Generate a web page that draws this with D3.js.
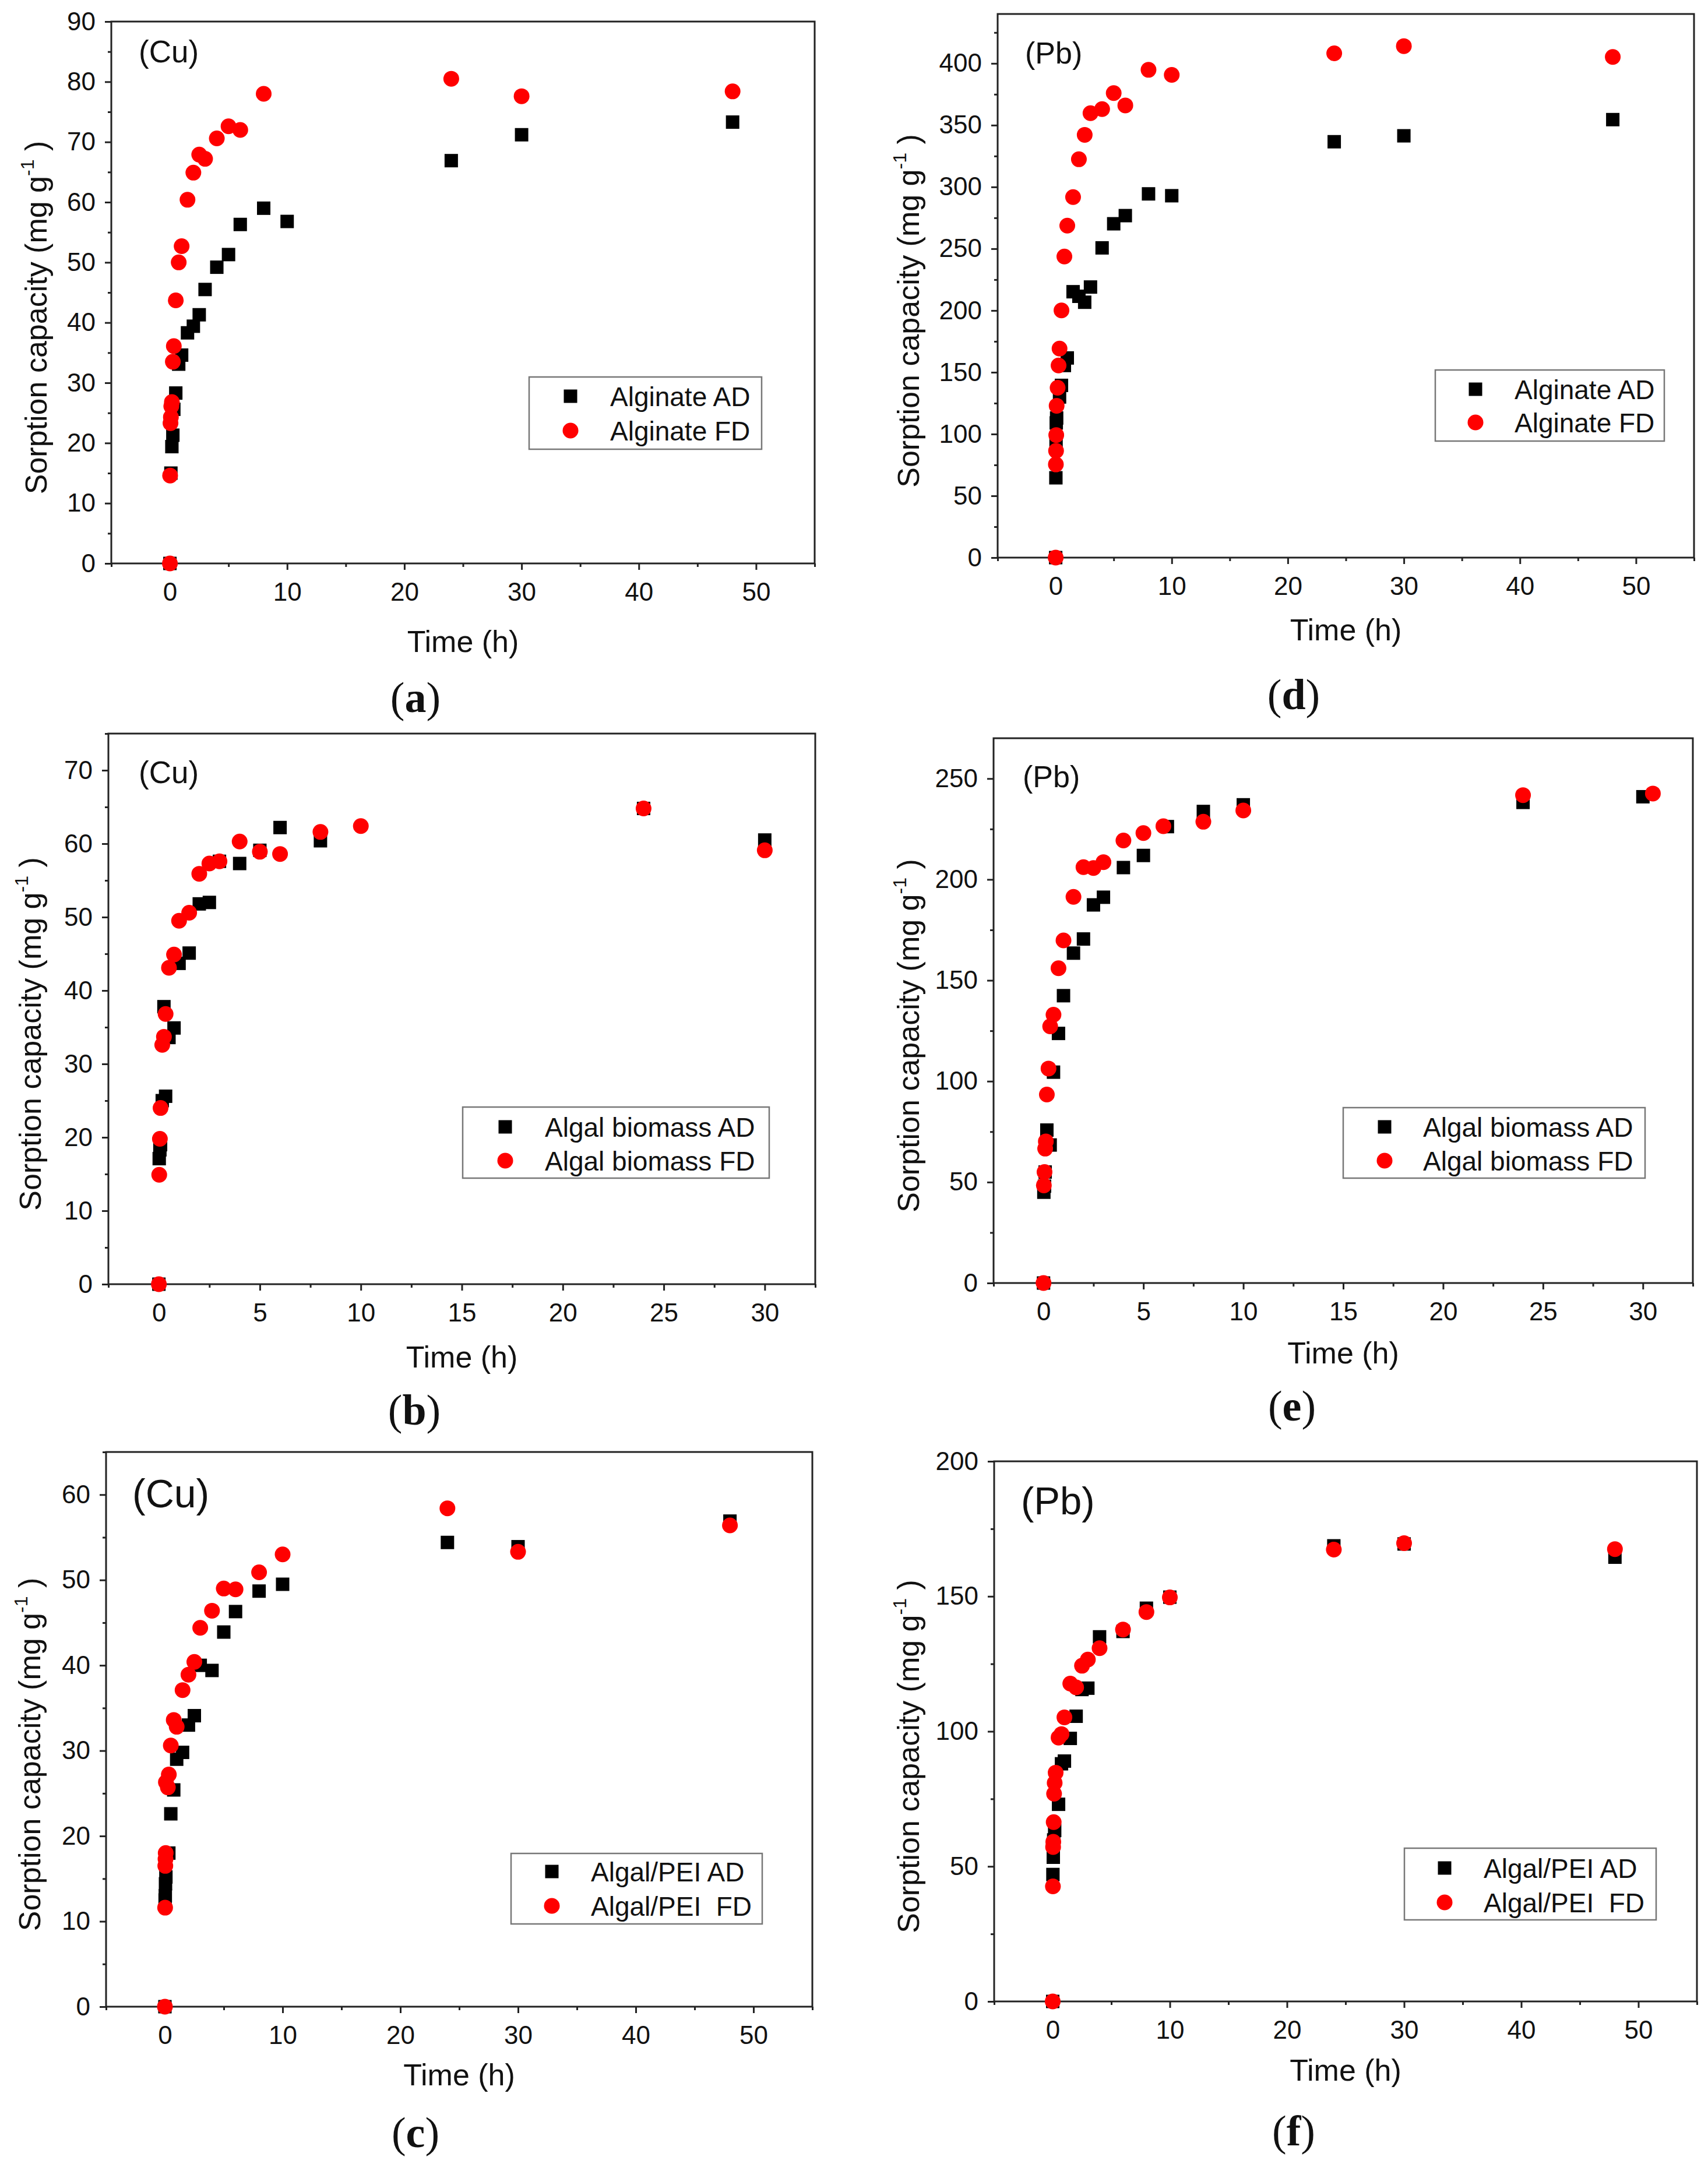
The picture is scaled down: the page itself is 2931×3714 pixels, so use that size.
<!DOCTYPE html>
<html>
<head>
<meta charset="utf-8">
<script src="https://cdn.jsdelivr.net/npm/d3@7"></script>
<style>
body { margin: 0; background: #fff; }
text { font-family: "Liberation Sans", Arial, sans-serif; fill: #111; }
</style>
</head>
<body>
<div id="viz"></div>
<script>
// (a) Cu on alginate
var aTimeAD = [0, 0.083, 0.167, 0.25, 0.333, 0.5, 0.75, 1, 1.5, 2, 2.5, 3, 4, 5, 6, 8, 10, 24, 30, 48];
var aQAD = [0, 15.0, 19.4, 21.3, 25.6, 28.3, 33.1, 34.6, 38.3, 39.4, 41.3, 45.5, 49.2, 51.3, 56.3, 59.0, 56.8, 66.9, 71.2, 73.3];
var aTimeFD = [0, 0.017, 0.05, 0.083, 0.117, 0.167, 0.25, 0.333, 0.5, 0.75, 1, 1.5, 2, 2.5, 3, 4, 5, 6, 8, 24, 30, 48];
var aQFD = [0, 14.6, 23.3, 24.3, 26.1, 26.8, 33.5, 36.1, 43.7, 50.0, 52.7, 60.4, 64.9, 67.9, 67.2, 70.6, 72.6, 72.0, 78.0, 80.5, 77.6, 78.4];

// (d) Pb on alginate
var dTimeAD = [0, 0.017, 0.033, 0.05, 0.083, 0.333, 0.5, 0.75, 1, 1.5, 2, 2.5, 3, 4, 5, 6, 8, 10, 24, 30, 48];
var dQAD = [0, 64.6, 95, 109, 113, 130, 139.4, 155.5, 161.6, 215.2, 211.5, 206.7, 219.0, 250.7, 270.2, 276.8, 294.4, 292.9, 336.6, 341.4, 354.5];
var dTimeFD = [0, 0.017, 0.033, 0.05, 0.083, 0.167, 0.25, 0.333, 0.5, 0.75, 1, 1.5, 2, 2.5, 3, 4, 5, 6, 8, 10, 24, 30, 48];
var dQFD = [0, 75.4, 86.4, 99.2, 122.9, 137.5, 155.5, 169.2, 200.1, 243.7, 268.7, 291.8, 322.4, 342.2, 359.7, 363.0, 376.0, 366.0, 394.8, 390.7, 408.2, 414.0, 405.2];

// (b) Cu on algal biomass
var bTimeAD = [0, 0.017, 0.05, 0.083, 0.167, 0.25, 0.333, 0.5, 0.75, 1, 1.5, 2, 2.5, 3, 4, 5, 6, 8, 24, 30];
var bQAD = [0, 17.1, 18.3, 19.0, 25.0, 37.8, 25.6, 33.6, 34.9, 43.7, 45.1, 51.8, 52.0, 57.6, 57.3, 59.1, 62.2, 60.4, 64.8, 60.5];
var bTimeFD = [0, 0.017, 0.05, 0.083, 0.167, 0.25, 0.333, 0.5, 0.75, 1, 1.5, 2, 2.5, 3, 4, 5, 6, 8, 10, 24, 30];
var bQFD = [0, 14.9, 19.8, 24.0, 32.6, 33.7, 36.8, 43.1, 44.9, 49.5, 50.6, 55.9, 57.3, 57.6, 60.3, 58.9, 58.6, 61.6, 62.4, 64.8, 59.1];

// (e) Pb on algal biomass
var eTimeAD = [0, 0.017, 0.05, 0.083, 0.167, 0.333, 0.5, 0.75, 1, 1.5, 2, 2.5, 3, 4, 5, 6.2, 8, 10, 24, 30];
var eQAD = [0, 45.0, 48.0, 55.0, 75.8, 68.4, 104.5, 123.7, 142.4, 163.5, 170.5, 187.4, 191.2, 205.9, 211.9, 226.2, 233.7, 237.0, 238.2, 241.0];
var eTimeFD = [0, 0.017, 0.05, 0.083, 0.117, 0.167, 0.25, 0.333, 0.5, 0.75, 1, 1.5, 2, 2.5, 3, 4, 5, 6, 8, 10, 24, 30.5];
var eQFD = [0, 48.4, 55.0, 66.6, 70.2, 93.4, 106.3, 127.2, 133.0, 156.0, 169.8, 191.4, 206.1, 205.7, 208.6, 219.3, 223.0, 226.4, 228.6, 234.2, 241.8, 242.6];

// (c) Cu on algal/PEI
var cTimeAD = [0, 0.017, 0.033, 0.05, 0.083, 0.333, 0.5, 0.75, 1, 1.5, 2, 2.5, 3, 4, 5, 6, 8, 10, 24, 30, 48];
var cQAD = [0, 12.5, 13.0, 14.4, 15.2, 18.0, 22.6, 25.4, 29.0, 29.8, 33.0, 34.1, 40.0, 39.4, 43.9, 46.3, 48.7, 49.5, 54.4, 53.9, 56.9];
var cTimeFD = [0, 0.017, 0.033, 0.05, 0.067, 0.083, 0.25, 0.333, 0.5, 0.75, 1, 1.5, 2, 2.5, 3, 4, 5, 6, 8, 10, 24, 30, 48];
var cQFD = [0, 11.6, 16.5, 17.3, 18.0, 26.3, 25.7, 27.2, 30.6, 33.6, 32.8, 37.1, 38.9, 40.4, 44.4, 46.4, 49.0, 48.9, 50.9, 53.0, 58.4, 53.3, 56.4];

// (f) Pb on algal/PEI
var fTimeAD = [0, 0.017, 0.05, 0.083, 0.167, 0.5, 0.75, 1, 1.5, 2, 2.5, 3, 4, 6, 8, 10, 24, 30, 48];
var fQAD = [0, 47.0, 53.4, 59.8, 63.3, 73.0, 88.0, 89.0, 97.4, 105.6, 115.5, 116.0, 135.0, 137.0, 145.6, 149.7, 168.7, 169.4, 164.5];
var fTimeFD = [0, 0.017, 0.033, 0.05, 0.083, 0.117, 0.167, 0.25, 0.5, 0.75, 1, 1.5, 2, 2.5, 3, 4, 6, 8, 10, 24, 30, 48];
var fQFD = [0, 42.6, 57.2, 59.1, 66.4, 76.9, 80.9, 84.7, 97.7, 99.0, 105.2, 117.7, 116.3, 124.3, 126.6, 130.8, 137.7, 144.2, 149.6, 167.3, 169.7, 167.5];

// tick values
var ticks50 = [0, 10, 20, 30, 40, 50];
var minor50 = [-5, 5, 15, 25, 35, 45, 55];
var ticks30 = [0, 5, 10, 15, 20, 25, 30];
var minor30 = [-2.5, 2.5, 7.5, 12.5, 17.5, 22.5, 27.5, 32.5];

var legendAlginate = ["Alginate AD", "Alginate FD"];
var legendBiomass = ["Algal biomass AD", "Algal biomass FD"];
var legendPEI = ["Algal/PEI AD", "Algal/PEI  FD"];

var panels = [
  {tag: "a", ion: "(Cu)", ionSize: 53, ionX: 238, ionY: 107,
   left: 191, right: 1398, top: 37, bottom: 967,
   xDom: [-5, 55], xTicks: ticks50, xMinor: minor50,
   yDom: [0, 90], yTicks: d3.range(0, 91, 10), yMinor: d3.range(5, 90, 10),
   tAD: aTimeAD, qAD: aQAD, tFD: aTimeFD, qFD: aQFD,
   legend: legendAlginate, lg: [908, 647, 1307, 771], lgSym: 979, lgText: 1047, lgRows: [680, 739],
   titleDx: 130, titleDown: 152, letterX: 713, letterY: 1222},
  {tag: "d", ion: "(Pb)", ionSize: 52, ionX: 1759, ionY: 109,
   left: 1712, right: 2907, top: 24, bottom: 957,
   xDom: [-5, 55], xTicks: ticks50, xMinor: minor50,
   yDom: [0, 440], yTicks: d3.range(0, 401, 50), yMinor: d3.range(25, 440, 50),
   tAD: dTimeAD, qAD: dQAD, tFD: dTimeFD, qFD: dQFD,
   legend: legendAlginate, lg: [2463, 635, 2856, 757], lgSym: 2532, lgText: 2599, lgRows: [668, 725],
   titleDx: 154, titleDown: 142, letterX: 2220, letterY: 1217},
  {tag: "b", ion: "(Cu)", ionSize: 53, ionX: 238, ionY: 1344,
   left: 186, right: 1399, top: 1259, bottom: 2204,
   xDom: [-2.5, 32.5], xTicks: ticks30, xMinor: minor30,
   yDom: [0, 75], yTicks: d3.range(0, 71, 10), yMinor: d3.range(5, 76, 10),
   tAD: bTimeAD, qAD: bQAD, tFD: bTimeFD, qFD: bQFD,
   legend: legendBiomass, lg: [794, 1900, 1320, 2022], lgSym: 867, lgText: 935, lgRows: [1934, 1992],
   titleDx: 135, titleDown: 143, letterX: 711, letterY: 2445},
  {tag: "e", ion: "(Pb)", ionSize: 52, ionX: 1755, ionY: 1351,
   left: 1705, right: 2905, top: 1267, bottom: 2202,
   xDom: [-2.5, 32.5], xTicks: ticks30, xMinor: minor30,
   yDom: [0, 270], yTicks: d3.range(0, 251, 50), yMinor: d3.range(25, 270, 50),
   tAD: eTimeAD, qAD: eQAD, tFD: eTimeFD, qFD: eQFD,
   legend: legendBiomass, lg: [2305, 1901, 2823, 2022], lgSym: 2376, lgText: 2442, lgRows: [1934, 1992],
   titleDx: 147, titleDown: 138, letterX: 2217, letterY: 2438},
  {tag: "c", ion: "(Cu)", ionSize: 68, ionX: 227, ionY: 2587,
   left: 182, right: 1394, top: 2492, bottom: 3444,
   xDom: [-5, 55], xTicks: ticks50, xMinor: minor50,
   yDom: [0, 65], yTicks: d3.range(0, 61, 10), yMinor: d3.range(5, 66, 10),
   tAD: cTimeAD, qAD: cQAD, tFD: cTimeFD, qFD: cQFD,
   legend: legendPEI, lg: [877, 3181, 1308, 3302], lgSym: 947, lgText: 1014, lgRows: [3212, 3271],
   titleDx: 132, titleDown: 135, letterX: 713, letterY: 3685},
  {tag: "f", ion: "(Pb)", ionSize: 67, ionX: 1752, ionY: 2599,
   left: 1706, right: 2912, top: 2508, bottom: 3435,
   xDom: [-5, 55], xTicks: ticks50, xMinor: minor50,
   yDom: [0, 200], yTicks: d3.range(0, 201, 50), yMinor: d3.range(25, 200, 50),
   tAD: fTimeAD, qAD: fQAD, tFD: fTimeFD, qFD: fQFD,
   legend: legendPEI, lg: [2410, 3172, 2842, 3295], lgSym: 2479, lgText: 2546, lgRows: [3206, 3265],
   titleDx: 148, titleDown: 136, letterX: 2220, letterY: 3682}
];

var ink = "#222";
var sq = 23;
var rad = 13.5;

var svg = d3.select("#viz")
  .append("svg")
  .attr("width", 2931)
  .attr("height", 3714)
  .style("display", "block");

svg.append("rect").attr("width", 2931).attr("height", 3714).attr("fill", "#fff");

function styleAxis(g) {
  g.select(".domain").remove();
  g.selectAll(".tick line").attr("stroke", ink).attr("stroke-width", 3);
  g.selectAll(".tick text").attr("font-size", 44).attr("fill", "#111")
    .style("font-family", '"Liberation Sans", Arial, sans-serif');
}

function drawPanel(p) {
  var x = d3.scaleLinear().domain(p.xDom).range([p.left, p.right]);
  var y = d3.scaleLinear().domain(p.yDom).range([p.bottom, p.top]);
  var g = svg.append("g").attr("id", "panel-" + p.tag);

  // minor ticks
  g.append("g").attr("transform", "translate(0," + p.bottom + ")")
    .call(d3.axisBottom(x).tickValues(p.xMinor).tickSize(6).tickSizeOuter(0).tickFormat(""))
    .call(styleAxis);
  g.append("g").attr("transform", "translate(" + p.left + ",0)")
    .call(d3.axisLeft(y).tickValues(p.yMinor).tickSize(6).tickSizeOuter(0).tickFormat(""))
    .call(styleAxis);

  // major ticks
  g.append("g").attr("transform", "translate(0," + p.bottom + ")")
    .call(d3.axisBottom(x).tickValues(p.xTicks).tickSize(11).tickPadding(22).tickSizeOuter(0).tickFormat(d3.format("d")))
    .call(styleAxis);
  g.append("g").attr("transform", "translate(" + p.left + ",0)")
    .call(d3.axisLeft(y).tickValues(p.yTicks).tickSize(11).tickPadding(16).tickSizeOuter(0).tickFormat(d3.format("d")))
    .call(styleAxis);

  // frame
  g.append("rect")
    .attr("x", p.left).attr("y", p.top)
    .attr("width", p.right - p.left).attr("height", p.bottom - p.top)
    .attr("fill", "none").attr("stroke", ink).attr("stroke-width", 3);

  // AD squares
  g.append("g").selectAll("rect")
    .data(d3.zip(p.tAD, p.qAD))
    .join("rect")
    .attr("x", function(d) { return x(d[0]) - sq / 2; })
    .attr("y", function(d) { return y(d[1]) - sq / 2; })
    .attr("width", sq).attr("height", sq)
    .attr("fill", "#000");

  // FD circles
  g.append("g").selectAll("circle")
    .data(d3.zip(p.tFD, p.qFD))
    .join("circle")
    .attr("cx", function(d) { return x(d[0]); })
    .attr("cy", function(d) { return y(d[1]); })
    .attr("r", rad)
    .attr("fill", "#ff0000");

  // metal label
  g.append("text")
    .attr("x", p.ionX).attr("y", p.ionY)
    .attr("font-size", p.ionSize)
    .text(p.ion);

  // legend
  var lg = p.lg;
  g.append("rect")
    .attr("x", lg[0]).attr("y", lg[1])
    .attr("width", lg[2] - lg[0]).attr("height", lg[3] - lg[1])
    .attr("fill", "#fff").attr("stroke", "#777").attr("stroke-width", 2.5);
  g.append("rect")
    .attr("x", p.lgSym - sq / 2).attr("y", p.lgRows[0] - sq / 2)
    .attr("width", sq).attr("height", sq).attr("fill", "#000");
  g.append("circle")
    .attr("cx", p.lgSym).attr("cy", p.lgRows[1]).attr("r", rad).attr("fill", "#ff0000");
  p.legend.forEach(function(s, i) {
    g.append("text")
      .attr("x", p.lgText).attr("y", p.lgRows[i])
      .attr("dy", "0.36em")
      .attr("font-size", 46)
      .attr("xml:space", "preserve")
      .style("white-space", "pre")
      .text(s);
  });

  // x title
  g.append("text")
    .attr("x", (p.left + p.right) / 2).attr("y", p.bottom + p.titleDown)
    .attr("text-anchor", "middle")
    .attr("font-size", 52)
    .text("Time (h)");

  // y title
  var cy = (p.top + p.bottom) / 2 + 43;
  var cx = p.left - p.titleDx;
  var yt = g.append("text")
    .attr("transform", "translate(" + cx + "," + cy + ") rotate(-90)")
    .attr("text-anchor", "middle")
    .attr("dy", "0.36em")
    .attr("font-size", 52);
  yt.append("tspan").text("Sorption capacity (mg g");
  yt.append("tspan").attr("font-size", 32).attr("dy", -22).text("-1");
  yt.append("tspan").attr("dy", 22).text(" )");

  // panel letter
  var lt = g.append("text")
    .attr("x", p.letterX).attr("y", p.letterY)
    .attr("text-anchor", "middle")
    .attr("font-size", 74)
    .style("font-family", '"Liberation Serif", "DejaVu Serif", serif');
  lt.append("tspan").text("(");
  lt.append("tspan").attr("font-weight", "bold").text(p.tag);
  lt.append("tspan").text(")");
}

panels.forEach(drawPanel);
</script>
</body>
</html>
